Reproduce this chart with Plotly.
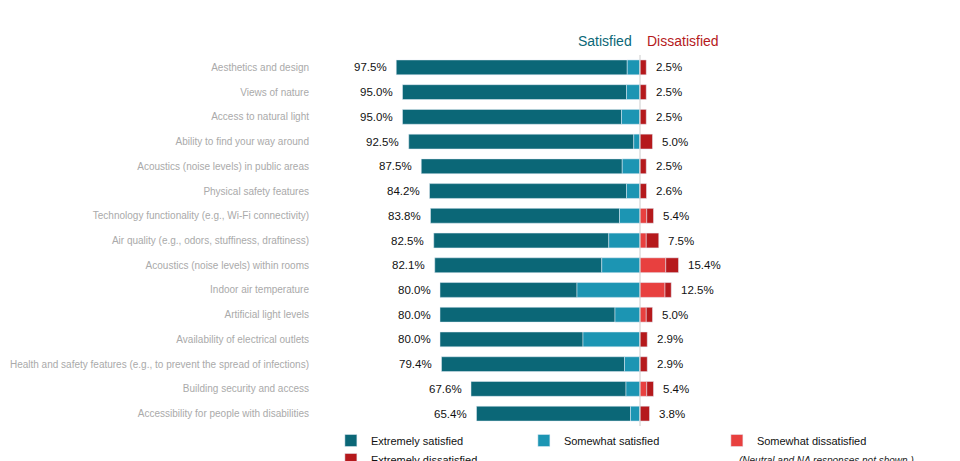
import plotly.graph_objects as go

categories = [
    'Aesthetics and design', 'Views of nature', 'Access to natural light',
    'Ability to find your way around', 'Acoustics (noise levels) in public areas',
    'Physical safety features', 'Technology functionality (e.g., Wi-Fi connectivity)',
    'Air quality (e.g., odors, stuffiness, draftiness)', 'Acoustics (noise levels) within rooms',
    'Indoor air temperature', 'Artificial light levels', 'Availability of electrical outlets',
    'Health and safety features (e.g., to prevent the spread of infections)',
    'Building security and access', 'Accessibility for people with disabilities',
]
extremely_sat = [92.4, 89.6, 87.6, 90.0, 80.4, 78.8, 75.6, 70.0, 66.8, 54.8, 70.0, 57.2, 73.2, 62.0, 61.6]
somewhat_sat = [5.1, 5.4, 7.4, 2.5, 7.1, 5.4, 8.2, 12.5, 15.3, 25.2, 10.0, 22.8, 6.2, 5.6, 3.8]
somewhat_dis = [0, 0, 0, 0, 0, 0, 2.7, 2.5, 10.3, 10.0, 2.5, 0, 0, 2.7, 0]
extremely_dis = [2.5, 2.5, 2.5, 5.0, 2.5, 2.6, 2.7, 5.0, 5.1, 2.5, 2.5, 2.9, 2.9, 2.7, 3.8]
sat_total = [97.5, 95.0, 95.0, 92.5, 87.5, 84.2, 83.8, 82.5, 82.1, 80.0, 80.0, 80.0, 79.4, 67.6, 65.4]
dis_total = [2.5, 2.5, 2.5, 5.0, 2.5, 2.6, 5.4, 7.5, 15.4, 12.5, 5.0, 2.9, 2.9, 5.4, 3.8]

dark_teal = '#0b6777'
light_teal = '#1c95b3'
light_red = '#e8403f'
dark_red = '#b5191c'

fig = go.Figure()
# dark runs from -total to -somewhat, light from -somewhat to 0
fig.add_trace(go.Bar(y=categories, x=extremely_sat, base=[-t for t in sat_total],
                     orientation='h', name='Extremely satisfied', marker_color=dark_teal))
fig.add_trace(go.Bar(y=categories, x=somewhat_sat, base=[-s for s in somewhat_sat],
                     orientation='h', name='Somewhat satisfied', marker_color=light_teal))
fig.add_trace(go.Bar(y=categories, x=somewhat_dis, base=[0] * len(categories),
                     orientation='h', name='Somewhat dissatisfied', marker_color=light_red))
fig.add_trace(go.Bar(y=categories, x=extremely_dis, base=somewhat_dis,
                     orientation='h', name='Extremely dissatisfied', marker_color=dark_red))

for cat, s, d in zip(categories, sat_total, dis_total):
    fig.add_annotation(x=-s - 3, y=cat, text=f'{s:.1f}%', xanchor='right', showarrow=False,
                       font=dict(size=11.5, color='#111'))
    fig.add_annotation(x=d + 3, y=cat, text=f'{d:.1f}%', xanchor='left', showarrow=False,
                       font=dict(size=11.5, color='#111'))

fig.add_annotation(x=-14, y=1.0, yref='paper', yanchor='bottom', yshift=4, text='Satisfied',
                   showarrow=False, font=dict(size=14, color=dark_teal))
fig.add_annotation(x=17, y=1.0, yref='paper', yanchor='bottom', yshift=4, text='Dissatisfied',
                   showarrow=False, font=dict(size=14, color=dark_red))
fig.add_annotation(x=1.0, xref='paper', xanchor='right', xshift=-46, y=0, yref='paper', yshift=-42,
                   text='<i>(Neutral and NA responses not shown.)</i>', showarrow=False,
                   font=dict(size=10, color='#222'))
fig.add_shape(type='line', x0=0, x1=0, y0=0, y1=1, yref='paper', line=dict(color='#cccccc', width=1))

fig.update_layout(
    width=960, height=461,
    margin=dict(l=310, r=6, t=47, b=43, autoexpand=False),
    barmode='overlay', bargap=0.4,
    plot_bgcolor='white', paper_bgcolor='white',
    font=dict(family='Arial, Liberation Sans, sans-serif'),
    showlegend=True,
    legend=dict(orientation='h', x=0.02, y=0, yanchor='top', yref='paper', xanchor='left',
                entrywidth=148, itemwidth=30, font=dict(size=11, color='#111'), traceorder='normal'),
)
fig.update_xaxes(range=[-128.8, 128.8], visible=False)
fig.update_yaxes(autorange='reversed', showgrid=False, ticks='', ticklabelstandoff=8,
                 automargin=False, tickfont=dict(size=10, color='#aaaaaa'))

fig.write_html('out.html')
